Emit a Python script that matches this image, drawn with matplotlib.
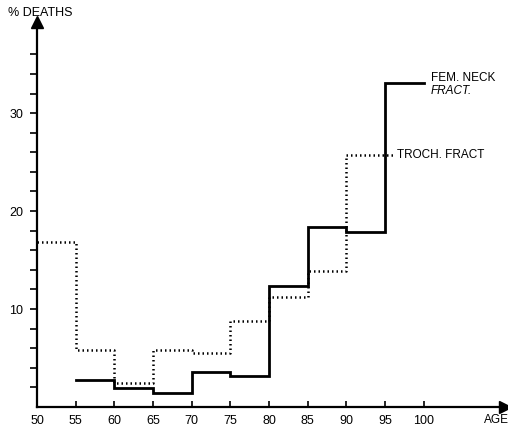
import matplotlib
matplotlib.use("Agg")
from matplotlib import pyplot as plt

# age group edges and % deaths (step values)
fem_edges = [55, 60, 65, 70, 75, 80, 85, 90, 95, 100]
fem_values = [2.8, 1.9, 1.4, 3.6, 3.2, 12.4, 18.4, 17.9, 33.1]

troch_edges = [50, 55, 60, 65, 70, 75, 80, 85, 90, 96]
troch_values = [16.8, 5.8, 2.4, 5.8, 5.5, 8.8, 11.2, 13.9, 25.7]

x_ticks = [50, 55, 60, 65, 70, 75, 80, 85, 90, 95, 100]
y_major = [10, 20, 30]
y_minor = [2, 4, 6, 8, 12, 14, 16, 18, 22, 24, 26, 28, 32, 34, 36]


def main():
    plt.rcParams["font.family"] = ["Liberation Sans", "DejaVu Sans"]
    fig = plt.figure(figsize=(5.08, 4.32), dpi=100)
    ax = fig.add_axes([37 / 508, 25 / 432, 468 / 508, 385 / 432])

    ax.step(fem_edges, fem_values + [fem_values[-1]], where="post",
            color="black", linewidth=2.0, solid_joinstyle="miter")
    ax.step(troch_edges, troch_values + [troch_values[-1]], where="post",
            color="black", linewidth=1.8, linestyle=(0, (0.6, 1.2)))

    ax.set_xlim(50, 110.5)
    ax.set_ylim(0, 39.3)

    for side in ["top", "right"]:
        ax.spines[side].set_visible(False)
    for side in ["left", "bottom"]:
        ax.spines[side].set_linewidth(1.6)

    # arrow heads on the axes
    ax.plot(1, 0, ">", color="black", markersize=9, transform=ax.transAxes, clip_on=False)
    ax.plot(0, 1, "^", color="black", markersize=9, transform=ax.transAxes, clip_on=False)

    ax.set_xticks(x_ticks)
    ax.set_xticklabels([str(t) for t in x_ticks])
    ax.tick_params(axis="x", direction="in", length=4, width=1.2, labelsize=9, pad=6)

    ax.set_yticks(y_major)
    ax.set_yticks(y_minor, minor=True)
    ax.tick_params(axis="y", which="both", direction="out", length=5, width=1.2, labelsize=9, pad=5)

    fig.text(8 / 508, 1 - 13 / 432, "% DEATHS", fontsize=9, va="center", ha="left")
    fig.text(484 / 508, 1 - 420 / 432, "AGE", fontsize=8.5, va="center", ha="left")

    ax.text(100.9, 33.6, "FEM. NECK", fontsize=8.5, va="center", ha="left")
    ax.text(100.9, 32.3, "FRACT.", fontsize=8.5, style="italic", va="center", ha="left")
    ax.text(96.6, 25.7, "TROCH. FRACT", fontsize=8.5, va="center", ha="left")

    fig.savefig("out.png", dpi=100)


if __name__ == "__main__":
    main()
